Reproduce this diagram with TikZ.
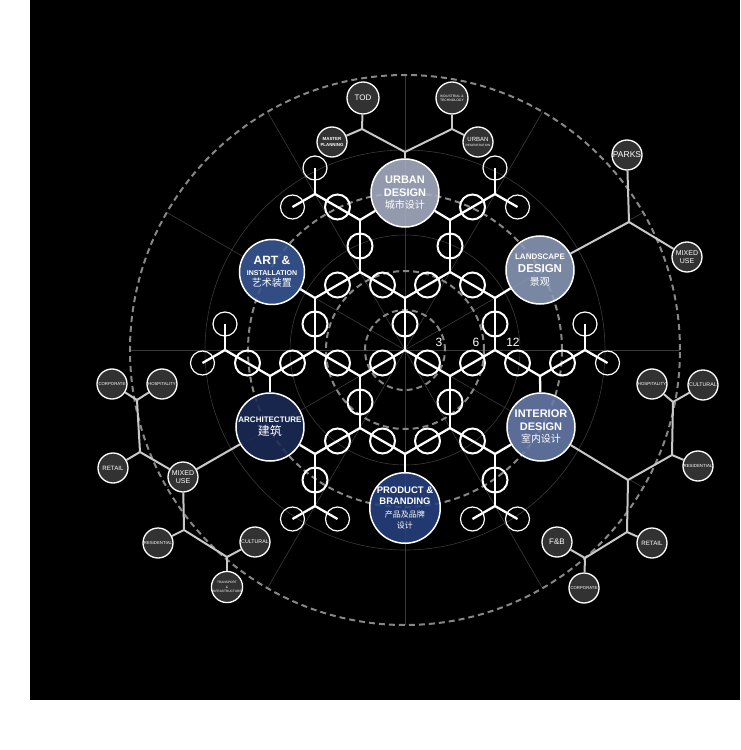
\documentclass[tikz,border=0pt]{standalone}
\usepackage{fontspec}
\setmainfont{Liberation Sans}
\newfontfamily\cjk{Noto Sans CJK SC}
\usepackage{tikz}
\usetikzlibrary{calc}
\definecolor{urbanblue}{RGB}{168, 176, 198}
\definecolor{landblue}{RGB}{140, 154, 186}
\definecolor{artblue}{RGB}{58, 88, 150}
\definecolor{archblue}{RGB}{28, 44, 88}
\definecolor{interblue}{RGB}{104, 124, 172}
\definecolor{prodblue}{RGB}{38, 66, 128}
\definecolor{satgray}{RGB}{50, 50, 50}
\definecolor{linkgray}{RGB}{200, 200, 200}
\definecolor{guidegray}{RGB}{58, 58, 58}
\definecolor{dashgray}{RGB}{135, 135, 135}
\newcommand{\fsz}[2]{\fontsize{#1}{#2}\selectfont}

\begin{document}
\begin{tikzpicture}[
    x=1pt, y=1pt,
    big/.style={circle, draw=white, line width=1.5pt, minimum size=68pt, inner sep=0pt, align=center, text=white, fill opacity=0.88, text opacity=1},
    sat/.style={circle, draw=white!92, fill=satgray, line width=1.3pt, minimum size=30pt, inner sep=0pt, align=center, text=white!90},
    ring/.style={circle, draw=white, line width=2pt, minimum size=25pt, inner sep=0pt},
    tick/.style={ring, line width=1.2pt, minimum size=24pt},
    bond/.style={white, line width=2.3pt},
    link/.style={linkgray, line width=2pt},
    guide/.style={guidegray, line width=0.6pt},
    dashring/.style={dashgray, line width=2pt, dash pattern=on 6pt off 4pt},
    scalelabel/.style={text=white!80, font=\fsz{12}{12}}
]

    % --- BACKGROUND ---
    \useasboundingbox (-405,-400) rectangle (335,350);
    \fill[black] (-375,-350) rectangle (335,350);

    % --- GUIDE RINGS ---
    \foreach \r in {115, 200} \draw[guide] (0,0) circle (\r);
    \foreach \a in {0,30,...,330} \draw[guide] (0,0) -- (\a:275);
    \foreach \r in {40, 79, 157, 275} \draw[dashring] (0,0) circle (\r);

    \node[scalelabel] (s3) at (34,8) {3};
    \node[scalelabel] (s6) at (71,8) {6};
    \node[scalelabel] (s12) at (108,8) {12};

    % --- LATTICE SITES ---
    \coordinate (c0) at (0,0);
    \coordinate (b1) at (0,52);
    \coordinate (b2) at (-45,-26);
    \coordinate (b3) at (45,-26);
    \coordinate (a1) at (45,78);
    \coordinate (a2) at (-45,78);
    \coordinate (a3) at (90,0);
    \coordinate (a4) at (-90,0);
    \coordinate (a5) at (45,-78);
    \coordinate (a6) at (-45,-78);
    \coordinate (b4) at (0,-104);
    \coordinate (b5) at (90,52);
    \coordinate (b6) at (-90,52);
    \coordinate (b7) at (45,130);
    \coordinate (b8) at (-45,130);
    \coordinate (b9) at (135,-26);
    \coordinate (b10) at (-135,-26);
    \coordinate (b11) at (90,-104);
    \coordinate (b12) at (-90,-104);
    \coordinate (t1) at (90,156);
    \coordinate (t2) at (-90,156);
    \coordinate (t3) at (180,0);
    \coordinate (t4) at (-180,0);
    \coordinate (t5) at (90,-156);
    \coordinate (t6) at (-90,-156);

    % --- DISCIPLINES ---
    \node[big, fill=urbanblue, font=\bfseries\fsz{11}{12.5}] (urban) at (0,157)
        {URBAN\\DESIGN\\\cjk\mdseries\fsz{10}{12}城市设计};
    \node[big, fill=landblue, font=\bfseries\fsz{11.5}{13}] (land) at (135,80)
        {\fsz{8}{10}LANDSCAPE\\DESIGN\\\cjk\mdseries\fsz{10}{12}景观};
    \node[big, fill=artblue, minimum size=65pt, font=\bfseries\fsz{12}{11}] (art) at (-133,78)
        {ART \&\\\fsz{7}{10}INSTALLATION\\\cjk\mdseries\fsz{10}{11}艺术装置};
    \node[big, fill=archblue, font=\bfseries\fsz{8}{13}] (arch) at (-135,-77)
        {ARCHITECTURE\\\cjk\mdseries\fsz{12}{13}建筑};
    \node[big, fill=interblue, font=\bfseries\fsz{11}{12.5}] (inter) at (136,-77)
        {INTERIOR\\DESIGN\\\cjk\mdseries\fsz{10}{12}室内设计};
    \node[big, fill=prodblue, font=\bfseries\fsz{9.5}{11}] (prod) at (0,-158)
        {PRODUCT \&\\BRANDING\\[2pt]\cjk\mdseries\fsz{8}{10}产品及品牌\\\cjk\mdseries\fsz{8}{10}设计};

    % --- NETWORK ---
    \foreach \p/\q [count=\i] in {c0/b1, c0/b2, c0/b3, b1/a1, b1/a2, b3/a3, b3/a5, b2/a4, b2/a6,
            a1/b7, a1/b5, a2/b8, a2/b6, a3/b5, a3/b9, a4/b6, a4/b10, a5/b4, a5/b11, a6/b4, a6/b12,
            b7/t1, b8/t2, b9/t3, b10/t4, b11/t5, b12/t6}
        \draw[bond] (\p) -- (\q) node[ring, midway] (m\i) {};

    \foreach \p/\q in {b7/urban, b8/urban, b5/land, b6/art, b9/inter, b10/arch, b11/inter, b12/arch, b4/prod}
        \draw[bond] (\p) -- (\q);

    % open ends of the outer sites
    \foreach \t/\a/\b in {t1/90/330, t2/90/210, t3/90/330, t4/90/210, t5/210/330, t6/210/330} {
        \draw[bond] (\t) -- ++(\a:26) node[tick] (\t-\a) {};
        \draw[bond] (\t) -- ++(\b:26) node[tick] (\t-\b) {};
    }

    % --- URBAN DESIGN GROUP ---
    \coordinate (uj) at (0,198);
    \coordinate (ujl) at (-43,221);
    \coordinate (ujr) at (47,221);
    \node[sat, minimum size=32pt, font=\fsz{8}{9}] (tod) at (-42,252) {TOD};
    \node[sat, font=\bfseries\fsz{4.4}{5.2}] (master) at (-73,208) {MASTER\\PLANNING};
    \node[sat, minimum size=32pt, font=\fsz{3.4}{4.2}] (indus) at (47,252) {INDUSTRIAL \&\\TECHNOLOGY};
    \node[sat, font=\fsz{3.1}{5}] (regen) at (73,208) {\fsz{6}{6.5}URBAN\\REGENERATION};

    \draw[link] (urban) -- (uj);
    \draw[link] (uj) -- (ujl);
    \draw[link] (uj) -- (ujr);
    \draw[link] (ujl) -- (tod);
    \draw[link] (ujl) -- (master);
    \draw[link] (ujr) -- (indus);
    \draw[link] (ujr) -- (regen);

    % --- LANDSCAPE GROUP ---
    \coordinate (lj) at (224,128);
    \node[sat, font=\fsz{8.5}{9}] (parks) at (222,195) {PARKS};
    \node[sat, font=\fsz{7}{8}] (lmixed) at (282,93) {MIXED\\USE};

    \draw[link] (land) -- (lj);
    \draw[link] (lj) -- (parks);
    \draw[link] (lj) -- (lmixed);

    % --- ARCHITECTURE GROUP ---
    \coordinate (aj1) at (-265,-102);
    \coordinate (aj2) at (-268,-50);
    \coordinate (aj3) at (-221,-180);
    \coordinate (aj4) at (-178,-207);
    \node[sat, font=\fsz{7}{8}] (amixed) at (-222,-127) {MIXED\\USE};
    \node[sat, font=\fsz{6.2}{7}] (aretail) at (-292,-118) {RETAIL};
    \node[sat, font=\fsz{4.3}{5}] (acorp) at (-293,-34) {CORPORATE};
    \node[sat, font=\fsz{4.3}{5}] (ahosp) at (-243,-34) {HOSPITALITY};
    \node[sat, font=\fsz{4.3}{5}] (aresi) at (-247,-193) {RESIDENTIAL};
    \node[sat, font=\fsz{5.3}{6}] (acult) at (-150,-192) {CULTURAL};
    \node[sat, font=\fsz{3.2}{4.2}] (atrans) at (-178,-237) {TRANSPORT\\\&\\INFRASTRUCTURE};

    \draw[link] (arch) -- (amixed);
    \draw[link] (amixed) -- (aj1);
    \draw[link] (aj1) -- (aretail);
    \draw[link] (aj1) -- (aj2);
    \draw[link] (aj2) -- (acorp);
    \draw[link] (aj2) -- (ahosp);
    \draw[link] (amixed) -- (aj3);
    \draw[link] (aj3) -- (aresi);
    \draw[link] (aj3) -- (aj4);
    \draw[link] (aj4) -- (acult);
    \draw[link] (aj4) -- (atrans);

    % --- INTERIOR DESIGN GROUP ---
    \coordinate (ij1) at (223,-130);
    \coordinate (ij2) at (267,-105);
    \coordinate (ij3) at (268,-52);
    \coordinate (ij4) at (222,-182);
    \coordinate (ij5) at (180,-208);
    \node[sat, font=\fsz{4.4}{5}] (iresi) at (293,-116) {RESIDENTIAL};
    \node[sat, font=\fsz{4.4}{5}] (ihosp) at (247,-34) {HOSPITALITY};
    \node[sat, font=\fsz{5.3}{6}] (icult) at (298,-35) {CULTURAL};
    \node[sat, font=\fsz{6.2}{7}] (iretail) at (247,-193) {RETAIL};
    \node[sat, font=\fsz{8}{9}] (ifb) at (152,-192) {F\&B};
    \node[sat, font=\fsz{4.3}{5}] (icorp) at (179,-238) {CORPORATE};

    \draw[link] (inter) -- (ij1);
    \draw[link] (ij1) -- (ij2);
    \draw[link] (ij2) -- (iresi);
    \draw[link] (ij2) -- (ij3);
    \draw[link] (ij3) -- (ihosp);
    \draw[link] (ij3) -- (icult);
    \draw[link] (ij1) -- (ij4);
    \draw[link] (ij4) -- (iretail);
    \draw[link] (ij4) -- (ij5);
    \draw[link] (ij5) -- (ifb);
    \draw[link] (ij5) -- (icorp);

\end{tikzpicture}
\end{document}
